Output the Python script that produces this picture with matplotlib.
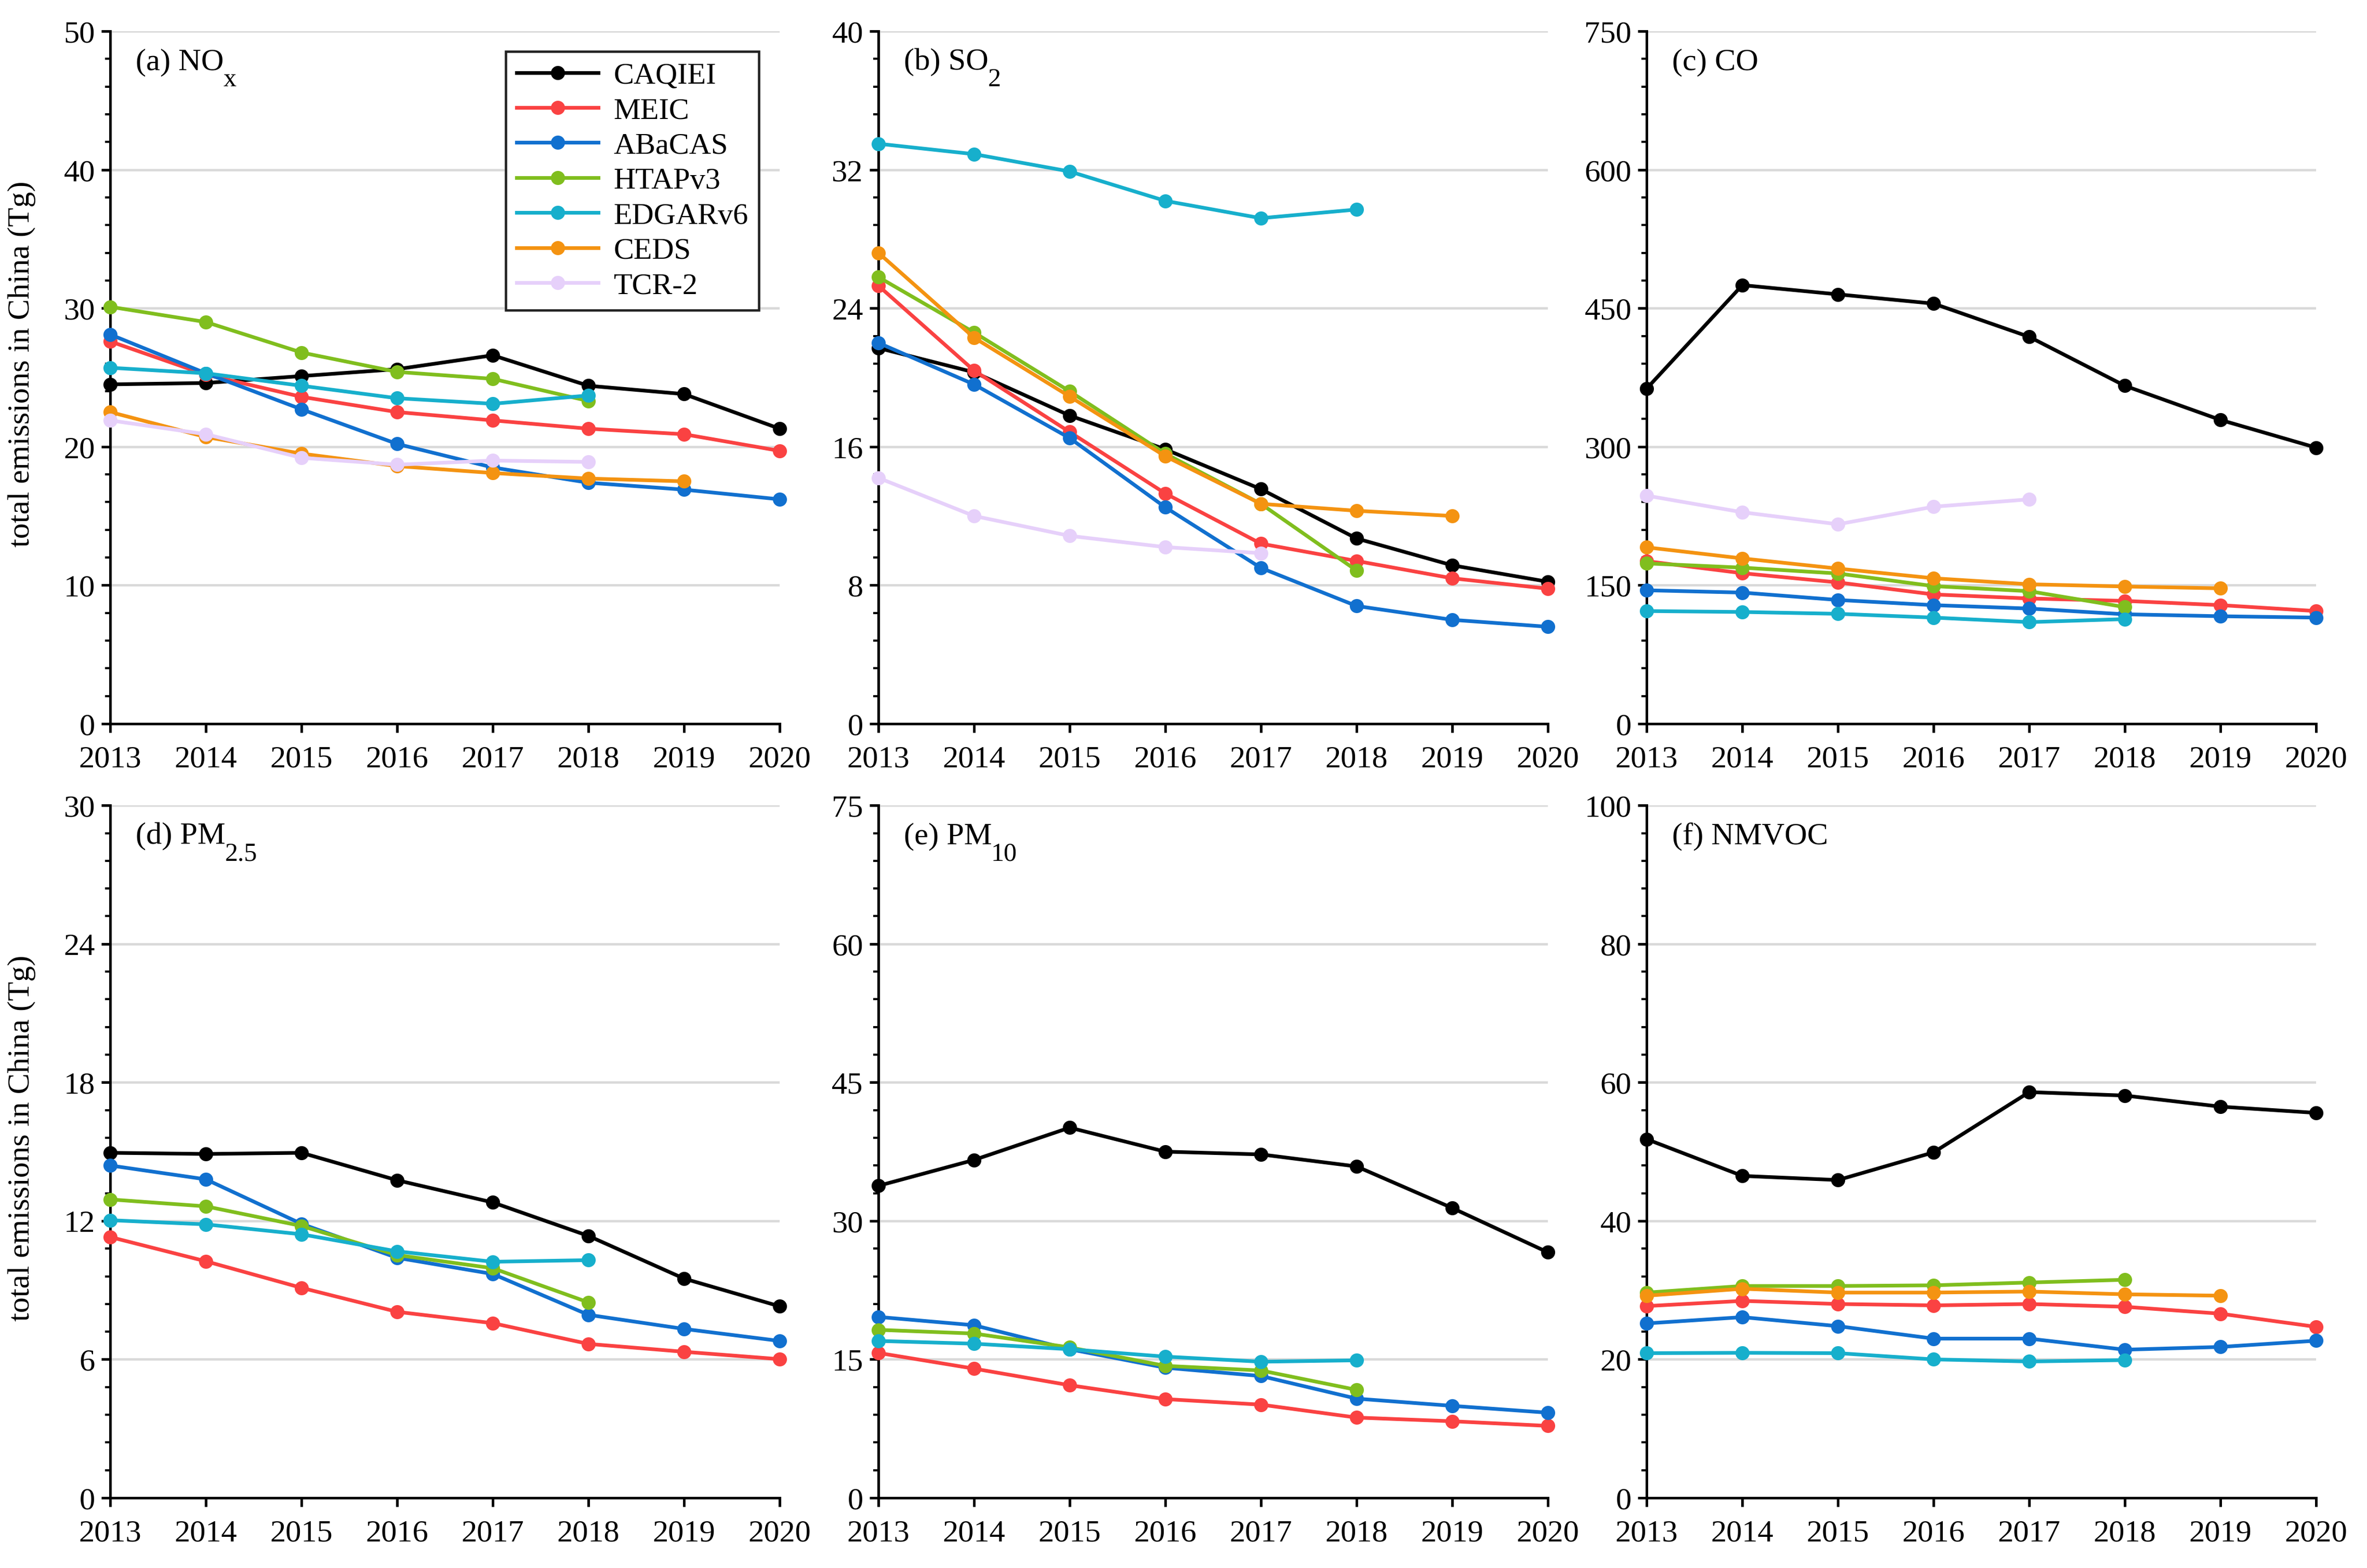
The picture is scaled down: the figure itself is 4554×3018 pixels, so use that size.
import matplotlib
matplotlib.use('Agg')
import matplotlib.pyplot as plt
from matplotlib.ticker import AutoMinorLocator

# total emissions in China (Tg)
years = [2013, 2014, 2015, 2016, 2017, 2018, 2019, 2020]
inventories = ['CAQIEI', 'MEIC', 'ABaCAS', 'HTAPv3', 'EDGARv6', 'CEDS', 'TCR-2']
colors = ['#000000', '#fa4242', '#1170cf', '#80be1e', '#17afcc', '#f49311', '#e6d0fa']

nox = {
    'CAQIEI': [24.5, 24.6, 25.1, 25.6, 26.6, 24.4, 23.8, 21.3],
    'MEIC': [27.6, 25.2, 23.6, 22.5, 21.9, 21.3, 20.9, 19.7],
    'ABaCAS': [28.1, 25.3, 22.7, 20.2, 18.5, 17.4, 16.9, 16.2],
    'HTAPv3': [30.1, 29.0, 26.8, 25.4, 24.9, 23.3],
    'EDGARv6': [25.7, 25.3, 24.4, 23.5, 23.1, 23.7],
    'CEDS': [22.5, 20.7, 19.5, 18.6, 18.1, 17.7, 17.5],
    'TCR-2': [21.9, 20.9, 19.2, 18.7, 19.0, 18.9],
}
so2 = {
    'CAQIEI': [21.7, 20.3, 17.8, 15.85, 13.55, 10.7, 9.15, 8.2],
    'MEIC': [25.3, 20.4, 16.85, 13.3, 10.4, 9.4, 8.4, 7.8],
    'ABaCAS': [22.0, 19.6, 16.5, 12.5, 9.0, 6.8, 6.0, 5.6],
    'HTAPv3': [25.8, 22.6, 19.2, 15.6, 12.7, 8.85],
    'EDGARv6': [33.5, 32.9, 31.9, 30.2, 29.2, 29.7],
    'CEDS': [27.2, 22.3, 18.9, 15.45, 12.7, 12.3, 12.0],
    'TCR-2': [14.2, 12.0, 10.85, 10.2, 9.85],
}
co = {
    'CAQIEI': [363, 475, 465, 455, 419, 366, 329, 299],
    'MEIC': [176, 163, 153, 140, 135.6, 133, 128.4, 122],
    'ABaCAS': [144.5, 142, 134, 128.4, 124.7, 118.5, 116.4, 114.9],
    'HTAPv3': [173.6, 169, 162.7, 149, 143.5, 126.3],
    'EDGARv6': [122, 121, 119, 114.9, 110, 113.3],
    'CEDS': [191, 179, 168, 157.5, 151, 148.6, 146.6],
    'TCR-2': [247, 229, 216, 235, 243],
}
pm25 = {
    'CAQIEI': [14.95, 14.9, 14.95, 13.76, 12.8, 11.35, 9.5, 8.3],
    'MEIC': [11.3, 10.25, 9.1, 8.06, 7.57, 6.67, 6.33, 6.01],
    'ABaCAS': [14.4, 13.8, 11.87, 10.4, 9.7, 7.93, 7.32, 6.8],
    'HTAPv3': [12.93, 12.63, 11.78, 10.52, 9.95, 8.47],
    'EDGARv6': [12.03, 11.85, 11.42, 10.68, 10.23, 10.3],
}
pm10 = {
    'CAQIEI': [33.8, 36.6, 40.1, 37.5, 37.2, 35.9, 31.4, 26.6],
    'MEIC': [15.7, 14.0, 12.2, 10.7, 10.1, 8.7, 8.3, 7.8],
    'ABaCAS': [19.6, 18.7, 16.1, 14.1, 13.2, 10.75, 9.97, 9.23],
    'HTAPv3': [18.2, 17.8, 16.3, 14.3, 13.8, 11.7],
    'EDGARv6': [17.0, 16.7, 16.1, 15.3, 14.75, 14.9],
}
nmvoc = {
    'CAQIEI': [51.8, 46.5, 45.9, 49.9, 58.6, 58.1, 56.5, 55.6],
    'MEIC': [27.7, 28.45, 28.0, 27.8, 28.0, 27.6, 26.6, 24.7],
    'ABaCAS': [25.2, 26.1, 24.8, 23.0, 23.0, 21.4, 21.8, 22.7],
    'HTAPv3': [29.65, 30.6, 30.6, 30.7, 31.1, 31.5],
    'EDGARv6': [20.9, 20.95, 20.9, 20.0, 19.7, 19.9],
    'CEDS': [29.2, 30.2, 29.65, 29.65, 29.8, 29.4, 29.2],
}

# (data, panel label, subscript, y max, major step)
panels = [
    (nox, '(a) NO', 'x', 50, 10),
    (so2, '(b) SO', '2', 40, 8),
    (co, '(c) CO', '', 750, 150),
    (pm25, '(d) PM', '2.5', 30, 6),
    (pm10, '(e) PM', '10', 75, 15),
    (nmvoc, '(f) NMVOC', '', 100, 20),
]

plt.rcParams['font.family'] = ['Liberation Serif', 'DejaVu Serif']
plt.rcParams['font.size'] = 14.5

fig = plt.figure(figsize=(15.18, 10.063), dpi=300)

lefts = [0.0466, 0.3711, 0.6957]
bottoms = [0.5383, 0.0447]
w, h = 0.2828, 0.4415

for i, (data, title, sub, ymax, step) in enumerate(panels):
    ax = fig.add_axes([lefts[i % 3], bottoms[i // 3], w, h])
    for name, c in zip(inventories, colors):
        if name not in data:
            continue
        vals = data[name]
        ax.plot(years[:len(vals)], vals, '-o', color=c, lw=1.7, ms=5.5,
                label=name, clip_on=False, zorder=3)

    ax.set_xlim(2013, 2020)
    ax.set_ylim(0, ymax)
    ax.set_xticks(years)
    ax.set_xticklabels([str(y) for y in years])
    ax.set_yticks(range(0, ymax + 1, step))
    ax.yaxis.set_minor_locator(AutoMinorLocator(5))

    ax.spines['top'].set_visible(False)
    ax.spines['right'].set_visible(False)
    ax.spines['left'].set_linewidth(1.2)
    ax.spines['bottom'].set_linewidth(1.2)
    ax.tick_params(axis='both', which='major', direction='out', length=4, width=1.2,
                   labelsize=14.5, pad=3)
    ax.tick_params(axis='y', which='minor', direction='out', length=2.3, width=1.0)
    ax.tick_params(axis='x', which='major', pad=6)

    ax.yaxis.grid(True, color='#d9d9d9', lw=1.1)
    ax.set_axisbelow(True)

    t = ax.text(0.038, 0.945, title, transform=ax.transAxes, fontsize=14.5,
                ha='left', va='baseline')
    if sub:
        ax.annotate(sub, xy=(1, 0), xycoords=t, xytext=(-0.3, -4.5),
                    textcoords='offset points', fontsize=12, ha='left', va='baseline')

    if i % 3 == 0:
        ax.set_ylabel('total emissions in China (Tg)', fontsize=14.5)
        ax.yaxis.set_label_coords(-0.111, 0.52)

    if i == 0:
        leg = ax.legend(loc='upper right', bbox_to_anchor=(0.969, 0.971),
                        fontsize=14, frameon=True, fancybox=False,
                        handlelength=2.7, labelspacing=0.25, borderpad=0.35,
                        handletextpad=0.5, borderaxespad=0)
        leg.get_frame().set_edgecolor('#222222')
        leg.get_frame().set_linewidth(1.1)
        leg.get_frame().set_alpha(1)

fig.savefig('out.png', dpi=300)
